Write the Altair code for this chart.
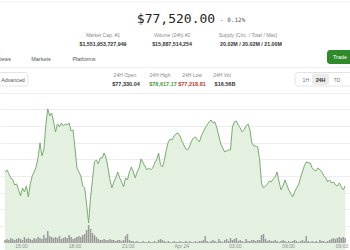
import altair as alt
import pandas as pd

# ---------------- data ----------------
# BTC price, sampled every ~6.5 minutes starting 14:04 (Apr 23)
prices = [
    77849, 77873, 77825, 77777, 77753, 77693, 77705, 77633, 77561, 77657,
    77609, 77681, 77549, 77705, 77801, 77849, 77909, 78017, 78197, 78041,
    78113, 78413, 78605, 78521, 78557, 78449, 78329, 78425, 78389, 78437,
    78401, 78425, 78413, 78437, 78341, 78353, 78137, 77897, 77849, 77801,
    77681, 77657, 77453, 77237, 77537, 77753, 77969, 77993, 77945, 78017,
    78017, 78077, 78017, 77897, 77753, 77657, 77729, 77777, 77849, 77777,
    77729, 77669, 77777, 77753, 77849, 77909, 77849, 77777, 77849, 77897,
    78005, 77957, 77921, 77873, 77897, 77873, 77897, 77957, 77993, 78077,
    77933, 77909, 77993, 78113, 78209, 78245, 78233, 78281, 78305, 78317,
    78281, 78221, 78173, 78125, 78113, 78161, 78221, 78257, 78269, 78233,
    78209, 78281, 78329, 78377, 78413, 78449, 78473, 78437, 78449, 78377,
    78281, 78185, 78137, 78089, 78101, 78113, 78113, 78389, 78449, 78461,
    78413, 78377, 78329, 78353, 78401, 78425, 78353, 78197, 78161, 78161,
    78149, 77993, 77705, 77657, 77681, 77705, 77741, 77729, 77765, 77789,
    77849, 77729, 77633, 77681, 77753, 77693, 77633, 77585, 77549, 77609,
    77657, 77693, 77777, 77849, 77921, 77969, 77957, 77957, 77897, 77873,
    77861, 77897, 77873, 77849, 77801, 77777, 77729, 77753, 77717, 77729,
    77693, 77681, 77717, 77669, 77633, 77681,
]
volumes = [
    30, 40, 30, 50, 40, 30,
    40, 50, 40, 30, 60, 40, 50, 40, 30, 50,
    40, 60, 50, 40, 80, 50, 120, 70, 60, 50,
    60, 50, 70, 40, 50, 60, 50, 80, 60, 40,
    50, 60, 70, 60, 80, 90, 130, 180, 140, 100,
    80, 60, 40, 30, 30, 40, 30, 30, 40, 30,
    30, 20, 30, 30, 20, 30, 70, 90, 30, 20,
    20, 10, 20, 10, 10, 20, 10, 10, 20, 10,
    10, 20, 10, 30, 40, 30, 20, 10, 20, 10,
    10, 20, 10, 10, 20, 10, 10, 20, 10, 20,
    10, 10, 20, 10, 20, 20, 30, 70, 20, 10,
    20, 30, 20, 10, 40, 20, 10, 30, 40, 20,
    50, 30, 40, 50, 20, 30, 20, 10, 40, 20,
    20, 30, 30, 20, 30, 30, 80, 90, 40, 20,
    30, 20, 20, 30, 20, 10, 20, 30, 20, 10,
    20, 10, 20, 30, 20, 10, 20, 30, 20, 70,
    20, 10, 20, 10, 20, 10, 30, 20, 20, 10,
    20, 30, 40, 50, 40, 50, 60, 50, 60, 50,
]
tick_hours = [15, 18, 21, 24, 27, 30, 33]
tick_labels = ["15:00", "18:00", "21:00", "Apr 24", "03:00", "06:00", "09:00"]
grid_prices = [77200, 77400, 77600, 77800, 78000, 78200, 78400, 78600, 78800]

start_hour = 14.0725
step_hours = 6.55 / 60
hours = [start_hour + i * step_hours for i in range(len(prices))]
df = pd.DataFrame({"h": hours, "price": prices, "vol": volumes})
ticks = pd.DataFrame({"h": tick_hours, "label": tick_labels})

# ---------------- scales ----------------
xs = alt.Scale(domain=[14.0725, 33.167], nice=False, zero=False)
ys = alt.Scale(domain=[77200, 78800], range=[226, 92.7], nice=False, zero=False)
vs = alt.Scale(domain=[0, 200], range=[243, 223], nice=False, zero=True)
X = alt.X("h:Q", scale=xs, axis=None)

FONT = "Liberation Sans"
ONE = alt.Data(values=[{}])


def txt(s, x, y, size=5, color="#8a8a8a", weight="normal", align="center", font=FONT):
    return alt.Chart(ONE).mark_text(
        text=s, align=align, baseline="middle", fontSize=size, color=color,
        fontWeight=weight, font=font,
    ).encode(x=alt.value(x), y=alt.value(y))


def box(x1, x2, y1, y2, fill, stroke=None, r=2):
    kw = dict(fill=fill, cornerRadius=r)
    if stroke:
        kw.update(stroke=stroke, strokeWidth=0.8)
    return alt.Chart(ONE).mark_rect(**kw).encode(
        x=alt.value(x1), x2=alt.value(x2), y=alt.value(y1), y2=alt.value(y2)
    )


def hrule(y, color="#ececec"):
    return alt.Chart(ONE).mark_rule(color=color, strokeWidth=1).encode(
        x=alt.value(0), x2=alt.value(350), y=alt.value(y)
    )


grad = alt.Gradient(
    gradient="linear",
    stops=[alt.GradientStop(color="#e4f1e1", offset=0),
           alt.GradientStop(color="#ffffff", offset=1)],
    x1=1, x2=1, y1=0, y2=1,
)

grid = alt.Chart(df).mark_line(opacity=0).encode(
    x=X,
    y=alt.Y("price:Q", scale=ys, axis=alt.Axis(
        values=grid_prices, grid=True, labels=False, ticks=False, domain=False,
        title=None, gridColor="#ededed", gridWidth=1)),
)
area = alt.Chart(df).mark_area(color=grad, clip=True).encode(
    x=X, y=alt.Y("price:Q", scale=ys, axis=None), y2=alt.value(236)
)
line = alt.Chart(df).mark_line(color="#7aab71", strokeWidth=1, clip=True).encode(
    x=X, y=alt.Y("price:Q", scale=ys, axis=None)
)
vol = alt.Chart(df).mark_bar(color="#9a9a9a", width=1.5).encode(
    x=X, y=alt.Y("vol:Q", scale=vs, axis=None)
)
xlab = alt.Chart(ticks).mark_text(
    fontSize=5, color="#8f8f8f", font=FONT, baseline="top", dy=0
).encode(x=X, y=alt.value(244), text="label:N")

header = [
    hrule(2, "#f1f1f1"),
    txt("$77,520.00", 176, 19, size=13, color="#222222", font="DejaVu Sans Mono"),
    txt("- 0.12%", 220, 19.5, size=6, color="#555555", align="left", font="DejaVu Sans Mono"),
    txt("Market Cap. #1", 103, 35),
    txt("$1,551,953,727,949", 103, 43.5, size=5.3, color="#333333", weight="bold"),
    txt("Volume (24h) #2", 172, 35),
    txt("$15,887,514,254", 172, 43.5, size=5.3, color="#333333", weight="bold"),
    txt("Supply (Circ. / Total / Max)", 248, 35),
    txt("20.02M / 20.02M / 21.00M", 251, 43.5, size=5.3, color="#333333", weight="bold"),
    box(327, 353, 50, 64, "#2f8a2b", r=3),
    txt("Trade", 340, 57, size=5.5, color="#ffffff"),
    txt("iews", 0, 59, size=5.5, color="#555555", align="left"),
    txt("Markets", 41, 59, size=5.5, color="#555555"),
    txt("Platforms", 84, 59, size=5.5, color="#555555"),
    hrule(67.5, "#eeeeee"),
    box(-3, 28, 72.5, 86, "#ffffff", stroke="#dddddd", r=3),
    txt("Advanced", 13, 79.5, size=5.3, color="#555555"),
    txt("24H Open", 125, 75),
    txt("$77,330.04", 126, 83.5, size=5.5, color="#333333", weight="bold"),
    txt("24H High", 160, 75),
    txt("$78,617.17", 163, 83.5, size=5.5, color="#3f9b3a", weight="bold"),
    txt("24H Low", 192, 75),
    txt("$77,218.81", 192, 83.5, size=5.5, color="#c0392b", weight="bold"),
    txt("24H Vol", 222, 75),
    txt("$16.56B", 225, 83.5, size=5.5, color="#333333", weight="bold"),
    box(295, 353, 72.5, 86, "#ffffff", stroke="#dddddd", r=3),
    box(312, 329, 73.5, 85, "#ececec", r=2),
    txt("1H", 306, 79.5, size=5.3, color="#777777"),
    txt("24H", 320.5, 79.5, size=5.3, color="#333333", weight="bold"),
    txt("7D", 337, 79.5, size=5.3, color="#777777"),
]

chart = alt.layer(
    grid, area, line, vol, xlab, *header
).resolve_scale(y="independent").properties(
    width=350, height=250, autosize=alt.AutoSizeParams(type="none"), padding=0,
    background="#ffffff",
).configure_view(stroke=None)

chart.save("out.html", embed_options={"renderer": "svg", "actions": False})
